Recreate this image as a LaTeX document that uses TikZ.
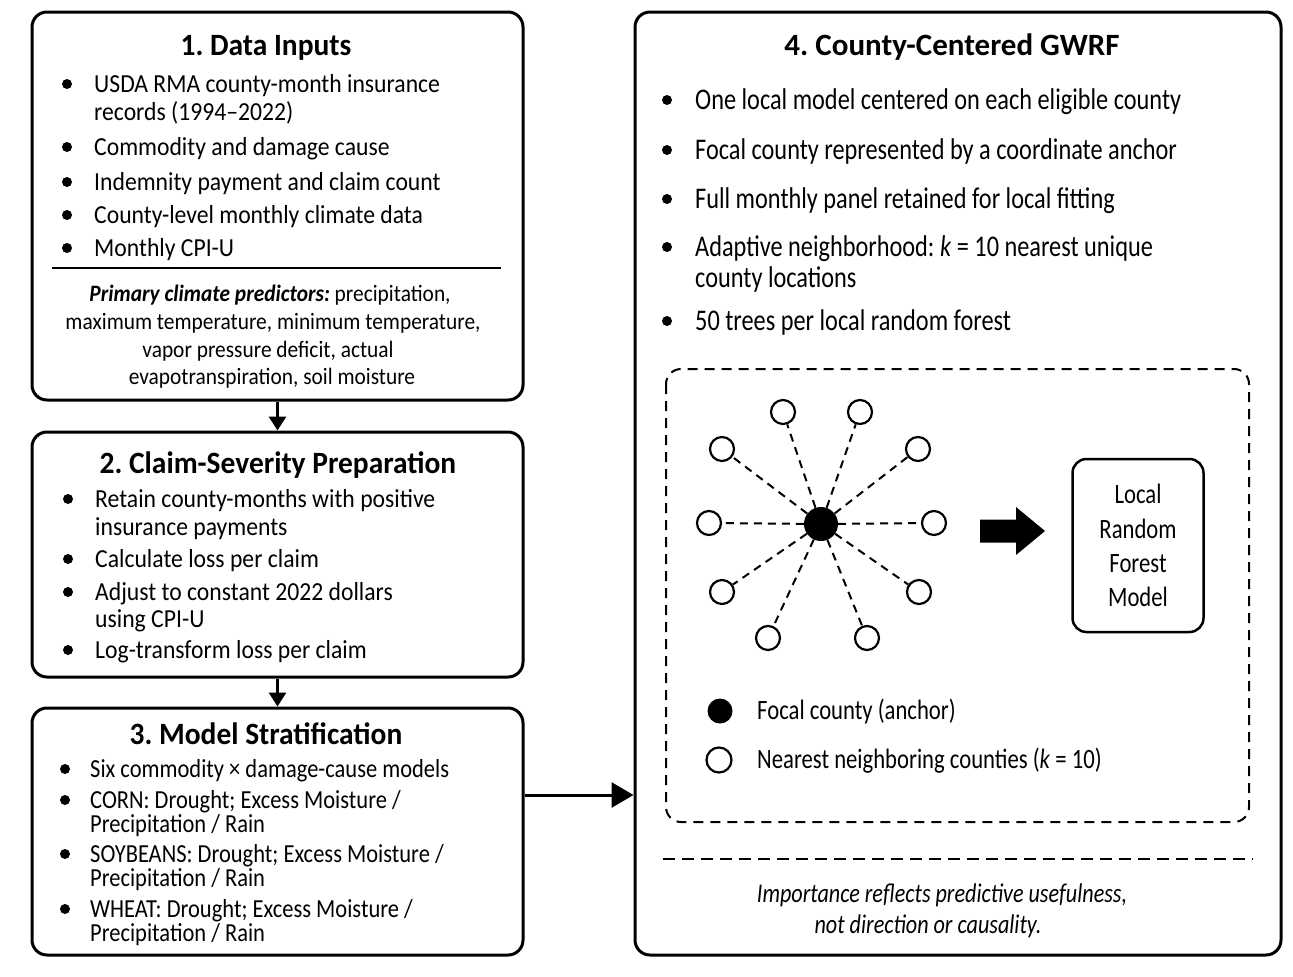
\documentclass[tikz,border=0pt]{standalone}
\usepackage{fontspec}
\setmainfont{Carlito}
\newfontfamily\myfA[FakeStretch=0.91]{Carlito}
\newfontfamily\myfB[FakeStretch=0.865]{Carlito}
\newfontfamily\myfC[FakeStretch=0.81]{Carlito}
\newfontfamily\myfN[FakeStretch=0.82]{Carlito}
\newfontfamily\myfT[FakeStretch=0.95]{Carlito}
\frenchspacing
\usetikzlibrary{arrows.meta}
\tikzset{
  x=1pt, y=-1pt,
  panel/.style={draw, line width=3pt, rounded corners=15pt, inner sep=0pt, anchor=center},
  ttl/.style={anchor=base, inner sep=0pt, font=\myfT\bfseries\fontsize{31}{34}\selectfont},
  ta/.style={anchor=base west, inner sep=0pt, font=\myfA\fontsize{26}{28}\selectfont},
  tb/.style={anchor=base west, inner sep=0pt, font=\myfB\fontsize{26}{28}\selectfont},
  tc/.style={anchor=base west, inner sep=0pt, font=\myfC\fontsize{30}{32}\selectfont},
  tit/.style={anchor=base, inner sep=0pt, font=\myfA\fontsize{23.5}{28}\selectfont},
  leg/.style={anchor=base west, inner sep=0pt, font=\myfC\fontsize{28}{30}\selectfont},
  rf/.style={anchor=base, inner sep=0pt, font=\myfC\fontsize{28}{30}\selectfont},
  note/.style={anchor=base, inner sep=0pt, font=\myfN\itshape\fontsize{27}{30}\selectfont},
  arr/.style={line width=3pt, -{Triangle[length=14pt,width=17pt]}},
  bigarr/.style={line width=3pt, -{Triangle[length=22pt,width=25pt]}},
  dl/.style={line width=2pt, dash pattern=on 8pt off 6pt},
  nb/.style={circle, draw, line width=2.2pt, fill=white, minimum size=24pt, inner sep=0pt},
  fcd/.style={circle, fill=black, minimum size=34pt, inner sep=0pt},
}
\begin{document}
\begin{tikzpicture}
\path[use as bounding box, fill=white] (0,0) rectangle (1293,977);

% ---------- panels ----------
\node[panel, minimum width=491pt, minimum height=388pt] (b1) at (277.5,206) {};
\node[panel, minimum width=491pt, minimum height=245pt] (b2) at (277.5,554.5) {};
\node[panel, minimum width=491pt, minimum height=247pt] (b3) at (277.5,831.5) {};
\node[panel, minimum width=646pt, minimum height=943pt] (b4) at (958,483.5) {};

% ---------- box 1 ----------
\node[ttl] (t1) at (266,55) {1. Data Inputs};
\foreach \y in {92,155,190,223,256} \fill (67,\y-8) circle (5pt);
\node[ta] (a1) at (94,92) {USDA RMA county-month insurance};
\node[ta] (a1b) at (94,120) {records (1994–2022)};
\node[ta] (a2) at (94,155) {Commodity and damage cause};
\node[ta] (a3) at (94,190) {Indemnity payment and claim count};
\node[ta] (a4) at (94,223) {County-level monthly climate data};
\node[ta] (a5) at (94,256) {Monthly CPI-U};
\draw[line width=2pt] (52,268) -- (501,268);
\node[tit] (p1) at (270,301) {\textbf{\textit{Primary climate predictors:}} precipitation,};
\node[tit] (p2) at (273,329) {maximum temperature, minimum temperature,};
\node[tit] (p3) at (268,357) {vapor pressure deficit, actual};
\node[tit] (p4) at (272,384) {evapotranspiration, soil moisture};

% ---------- box 2 ----------
\node[ttl] (t2) at (278,473) {2. Claim-Severity Preparation};
\foreach \y in {507,567,600,658} \fill (68,\y-8) circle (5pt);
\node[ta] (c1) at (95,507) {Retain county-months with positive};
\node[ta] (c1b) at (95,535) {insurance payments};
\node[ta] (c2) at (95,567) {Calculate loss per claim};
\node[ta] (c3) at (95,600) {Adjust to constant 2022 dollars};
\node[ta] (c3b) at (95,627) {using CPI-U};
\node[ta] (c4) at (95,658) {Log-transform loss per claim};

% ---------- box 3 ----------
\node[ttl] (t3) at (266,744) {3. Model Stratification};
\foreach \y in {777,808,862,917} \fill (65,\y-8) circle (5pt);
\node[tb] (m1) at (90,777) {Six commodity × damage-cause models};
\node[tb] (m2) at (90,808) {CORN: Drought; Excess Moisture /};
\node[tb] (m2b) at (90,832) {Precipitation / Rain};
\node[tb] (m3) at (90,862) {SOYBEANS: Drought; Excess Moisture /};
\node[tb] (m3b) at (90,886) {Precipitation / Rain};
\node[tb] (m4) at (90,917) {WHEAT: Drought; Excess Moisture /};
\node[tb] (m4b) at (90,941) {Precipitation / Rain};

% ---------- box 4 ----------
\node[ttl, font=\bfseries\fontsize{31}{34}\selectfont] (t4) at (952,55) {4. County-Centered GWRF};
\foreach \y in {109,159,208,256,330} \fill (667,\y-9) circle (5pt);
\node[tc] (g1) at (695,109) {One local model centered on each eligible county};
\node[tc] (g2) at (695,159) {Focal county represented by a coordinate anchor};
\node[tc] (g3) at (695,208) {Full monthly panel retained for local fitting};
\node[tc] (g4) at (695,256) {Adaptive neighborhood: \textit{k} = 10 nearest unique};
\node[tc] (g4b) at (695,287) {county locations};
\node[tc] (g5) at (695,330) {50 trees per local random forest};

% dashed inner frame
\draw[line width=2pt, dash pattern=on 10pt off 7pt, rounded corners=15pt] (666,369) rectangle (1249,822);

% star of neighbours
\node[fcd] (f) at (821,524) {};
\node[nb] (n1) at (783,412) {};
\node[nb] (n2) at (860,412) {};
\node[nb] (n3) at (722,449) {};
\node[nb] (n4) at (918,449) {};
\node[nb] (n5) at (709,523) {};
\node[nb] (n6) at (934,523) {};
\node[nb] (n7) at (722,592) {};
\node[nb] (n8) at (919,592) {};
\node[nb] (n9) at (768,638) {};
\node[nb] (n10) at (867,638) {};
\foreach \i in {1,...,10} \draw[dl] (f) -- (n\i);

% block arrow
\fill (980,519.5) -- (1016,519.5) -- (1016,507) -- (1045,531) -- (1016,555) -- (1016,542.5) -- (980,542.5) -- cycle;

% local RF box
\node[draw, line width=2.5pt, rounded corners=14pt, minimum width=131pt, minimum height=173pt, inner sep=0pt] (rfb) at (1138,545.5) {};
\node[rf] (r1) at (1138,503) {Local};
\node[rf] (r2) at (1138,538) {Random};
\node[rf] (r3) at (1138,572) {Forest};
\node[rf] (r4) at (1138,606) {Model};

% legend
\node[fcd, minimum size=25pt] (lf) at (720,711) {};
\node[leg] (lt1) at (757,719) {Focal county (anchor)};
\node[nb, minimum size=25pt] (ln) at (719,760) {};
\node[leg] (lt2) at (757,768) {Nearest neighboring counties (\textit{k} = 10)};

% separator and note
\draw[line width=2pt, dash pattern=on 12pt off 7pt] (663,859) -- (1253,859);
\node[note] (o1) at (942,902) {Importance reflects predictive usefulness,};
\node[note] (o2) at (928,933) {not direction or causality.};

% ---------- connectors ----------
\draw[arr] (b1.south) -- (b2.north);
\draw[arr] (b2.south) -- (b3.north);
\coordinate (ay) at (0,795);
\draw[bigarr] (b3.east |- ay) -- (b4.west |- ay);
\end{tikzpicture}
\end{document}
